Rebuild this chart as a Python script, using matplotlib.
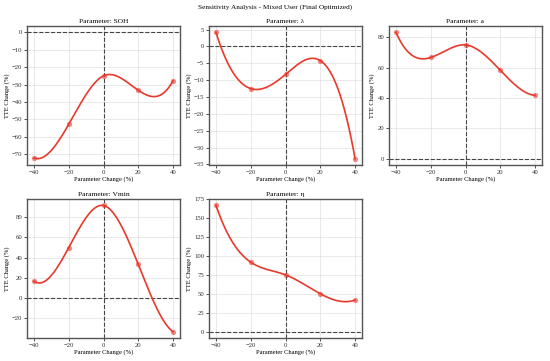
import numpy as np
import matplotlib
matplotlib.use("Agg")
import matplotlib.pyplot as plt

plt.rcParams['font.family'] = ['Liberation Serif', 'DejaVu Serif']

x_changes = [-40, -20, 0, 20, 40]
param_names = ['SOH', 'λ', 'a', 'Vmin', 'η']
soh_vals = [-72.2, -52.8, -25.0, -33.3, -27.8]
lambda_vals = [4.2, -12.5, -8.3, -4.2, -33.3]
a_vals = [83.3, 66.7, 75.0, 58.3, 41.7]
vmin_vals = [16.7, 50.0, 91.7, 33.3, -33.3]
eta_vals = [166.7, 91.7, 75.0, 50.0, 41.7]
series = [soh_vals, lambda_vals, a_vals, vmin_vals, eta_vals]


def notaknot_spline(x, y, xs):
    x = np.asarray(x, float); y = np.asarray(y, float)
    n = len(x); m = n - 1
    A = np.zeros((4 * m, 4 * m)); r = np.zeros(4 * m); row = 0
    for i in range(m):
        h = x[i + 1] - x[i]
        A[row, 4 * i:4 * i + 4] = [1, 0, 0, 0]; r[row] = y[i]; row += 1
        A[row, 4 * i:4 * i + 4] = [1, h, h ** 2, h ** 3]; r[row] = y[i + 1]; row += 1
    for i in range(m - 1):
        h = x[i + 1] - x[i]
        A[row, 4 * i:4 * i + 4] = [0, 1, 2 * h, 3 * h ** 2]; A[row, 4 * (i + 1) + 1] = -1; row += 1
        A[row, 4 * i:4 * i + 4] = [0, 0, 2, 6 * h]; A[row, 4 * (i + 1) + 2] = -2; row += 1
    A[row, 3] = 1; A[row, 7] = -1; row += 1
    A[row, 4 * (m - 2) + 3] = 1; A[row, 4 * (m - 1) + 3] = -1; row += 1
    coef = np.linalg.solve(A, r).reshape(m, 4)
    idx = np.clip(np.searchsorted(x, xs, side='right') - 1, 0, m - 1)
    t = xs - x[idx]
    c = coef[idx]
    return c[:, 0] + c[:, 1] * t + c[:, 2] * t ** 2 + c[:, 3] * t ** 3


fig = plt.figure(figsize=(5.5, 3.61), dpi=100)
W, H = 550, 361
boxes = [(27, 26, 180, 165), (209, 26, 362, 165), (389, 26, 542, 165),
         (27, 199, 180, 338), (209, 199, 362, 338)]
color = '#e8392b'
for name, vals, (l, t, r, b) in zip(param_names, series, boxes):
    ax = fig.add_axes([l / W, 1 - b / H, (r - l) / W, (b - t) / H])
    xs = np.linspace(min(x_changes), max(x_changes), 300)
    ax.plot(xs, notaknot_spline(x_changes, vals, xs), color=color, lw=1.2, zorder=3)
    ax.plot(x_changes, vals, 'o', color=color, ms=3.8, alpha=0.6, mew=0, zorder=4)
    ax.axhline(0, color='#444444', ls='--', lw=0.8, zorder=2)
    ax.axvline(0, color='#444444', ls='--', lw=0.8, zorder=2)
    ax.grid(True, color='#e0e0e0', lw=0.5)
    ax.set_axisbelow(True)
    ax.set_title(f'Parameter: {name}', fontsize=5.4, pad=2)
    ax.set_xlabel('Parameter Change (%)', fontsize=4.7, labelpad=1)
    ax.set_ylabel('TTE Change (%)', fontsize=4.7, labelpad=1.5)
    ax.set_xticks([-40, -20, 0, 20, 40])
    ax.tick_params(labelsize=4.9, length=2, width=0.6, pad=1.5, colors='#333333')
    for s in ax.spines.values():
        s.set_color('#555555'); s.set_linewidth(1.0)

fig.suptitle('Sensitivity Analysis - Mixed User (Final Optimized)', fontsize=5.2, y=0.981, va='center')
fig.savefig('out.png', dpi=100)
